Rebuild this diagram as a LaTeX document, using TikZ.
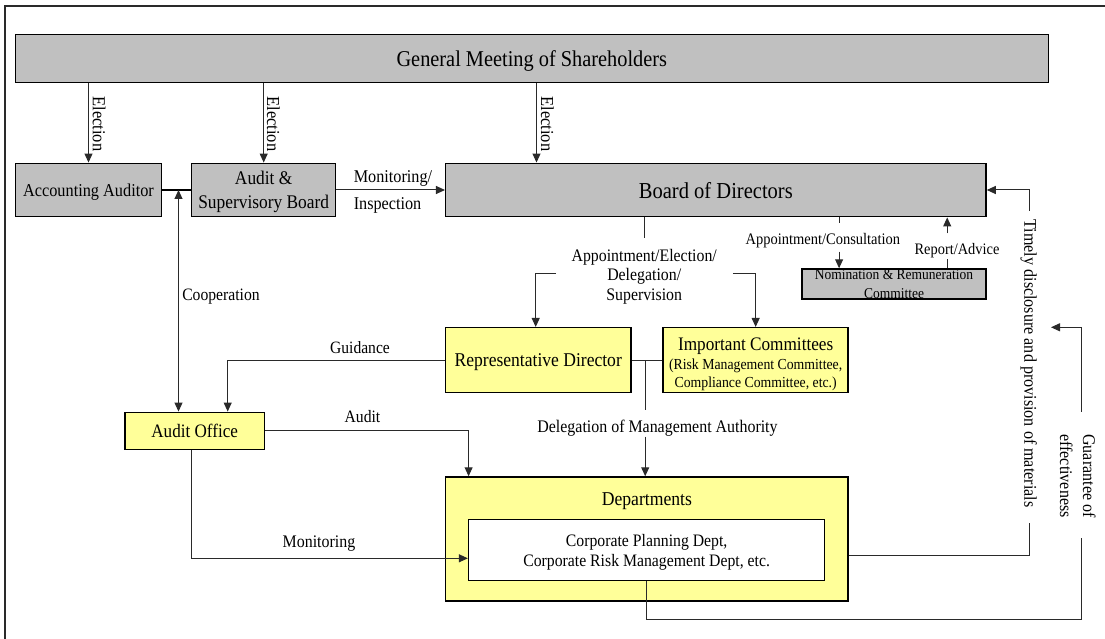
\documentclass[tikz,border=0pt]{standalone}
\usepackage{fontspec}
\setmainfont[FakeStretch=0.9]{Liberation Serif}
\usetikzlibrary{arrows.meta}
\definecolor{boxgray}{HTML}{C0C0C0}
\definecolor{boxyel}{HTML}{FFFF99}
\definecolor{linegray}{HTML}{2A2A2A}
\newcommand{\fsz}[2]{\fontsize{#1}{#2}\selectfont}
\tikzset{
  box/.style={draw=black, line width=1.5pt, inner sep=0pt, text depth=0pt, align=center},
  graybox/.style={box, fill=boxgray},
  yelbox/.style={box, fill=boxyel},
  conn/.style={draw=linegray, line width=1pt},
  arr/.style={conn, -{Triangle[length=9pt,width=8pt]}},
  darr/.style={conn, {Triangle[length=9pt,width=8pt]}-{Triangle[length=9pt,width=8pt]}},
  lbl/.style={inner sep=0pt, text depth=0pt, align=center},
}
\begin{document}
\begin{tikzpicture}[x=1pt,y=-1pt]
\useasboundingbox (0,0) rectangle (1105,639);
% frame
\draw[draw=linegray, line width=1.2pt] (5,650) -- (5,6) -- (1115,6);

% boxes
\node[graybox, minimum width=1033pt, minimum height=48.4pt, font=\fsz{22.6}{26}] (gms) at (531.8,58.5) {General Meeting of Shareholders};
\node[graybox, minimum width=145.6pt, minimum height=53.4pt, font=\fsz{18.1}{22}] (aa) at (88.5,190) {Accounting Auditor};
\node[graybox, minimum width=144pt, minimum height=53.4pt, font=\fsz{19.3}{24.4}] (asb) at (263.7,190) {Audit \&\\Supervisory Board};
\node[graybox, minimum width=540.3pt, minimum height=53.4pt, font=\fsz{22.8}{26}] (bod) at (715.85,190) {Board of Directors};
\node[graybox, minimum width=184pt, minimum height=30pt, font=\fsz{15}{18.3}] (nrc) at (894,284) {Nomination \& Remuneration\\Committee};
\node[yelbox, minimum width=185.1pt, minimum height=65pt, font=\fsz{19.5}{22}] (rd) at (538.25,360.2) {Representative Director};
\node[yelbox, minimum width=184.9pt, minimum height=65pt] (ic) at (755.65,360.2) {};
\node[lbl, font=\fsz{19.1}{22}] (ict) at (755.65,344) {Important Committees};
\node[lbl, font=\fsz{15.3}{18}] (ics1) at (755.65,364.5) {(Risk Management Committee,};
\node[lbl, font=\fsz{15.3}{18}] (ics2) at (755.65,381.7) {Compliance Committee, etc.)};
\node[yelbox, minimum width=139.3pt, minimum height=37pt, font=\fsz{19}{22}] (ao) at (194.65,430.8) {Audit Office};
\node[yelbox, minimum width=402.3pt, minimum height=124pt] (dept) at (646.85,539) {};
\node[lbl, font=\fsz{19.6}{22}] (depttxt) at (646.85,499.2) {Departments};
\node[box, fill=white, minimum width=356.1pt, minimum height=61pt, font=\fsz{17.5}{20}] (inner) at (646.65,550) {Corporate Planning Dept,\\Corporate Risk Management Dept, etc.};

% election arrows
\draw[arr] (aa.north |- gms.south) -- (aa.north);
\draw[arr] (asb.north |- gms.south) -- (asb.north);
\draw[arr] (536.5,0 |- gms.south) -- (536.5,0 |- bod.north);
\node[lbl, rotate=-90, font=\fsz{18.3}{22}] (el1) at (99.2,124) {Election};
\node[lbl, rotate=-90, font=\fsz{18.3}{22}] (el2) at (273.4,124) {Election};
\node[lbl, rotate=-90, font=\fsz{18.3}{22}] (el3) at (547.4,124) {Election};

% AA - ASB and cooperation
\draw[draw=black, line width=2pt] (aa.east) -- (asb.west);
\coordinate (coopTop) at (178.5,190);
\draw[darr] (coopTop |- ao.north) -- (coopTop);
\node[lbl, anchor=west, font=\fsz{17.4}{20}] (coop) at (182.1,295) {Cooperation};

% monitoring / inspection
\draw[arr] (asb.east) -- (bod.west);
\node[lbl, anchor=west, font=\fsz{18}{20}] (mon1) at (353.6,176.5) {Monitoring/};
\node[lbl, anchor=west, font=\fsz{18}{20}] (mon2) at (353.6,203.5) {Inspection};

% timely disclosure
\draw[conn] ([yshift=-16pt]dept.east) -- (1029.3,555) -- (1029.3,523.3);
\draw[arr] (1029.3,210.7) -- (1029.3,190) -- (bod.east);
\node[lbl, rotate=-90, font=\fsz{17.9}{22}] (timely) at (1030.7,363.5) {Timely disclosure and provision of materials};

% guarantee
\draw[conn] (inner.south) -- (inner.south |- 0,619.3) -- (1081.7,619.3) -- (1081.7,538.3);
\coordinate (gEnd) at (1051,327.3);
\draw[arr] (1081.7,411.7) -- (1081.7,327.3) -- (gEnd);
\node[lbl, rotate=-90, font=\fsz{17.8}{23}] (guar) at (1078,476) {Guarantee of\\effectiveness};

% nomination committee
\draw[conn] (839.1,0 |- bod.south) -- (839.1,223);
\draw[arr] (839.1,251.7) -- (839.1,0 |- nrc.north);
\node[lbl, font=\fsz{16.1}{20}] (appcons) at (822.9,238.5) {Appointment/Consultation};
\draw[conn] (947.2,0 |- nrc.north) -- (947.2,259);
\draw[arr] (947.2,233.3) -- (947.2,0 |- bod.south);
\node[lbl, font=\fsz{16}{20}] (repadv) at (957,249) {Report/Advice};

% appointment / election
\draw[conn] (644.5,0 |- bod.south) -- (644.5,238.3);
\node[lbl, font=\fsz{17.6}{19.5}] (appel) at (644.2,274.7) {Appointment/Election/\\Delegation/\\Supervision};
\draw[arr] (556,273.3) -- (535.7,273.3) -- (535.7,0 |- rd.north);
\draw[arr] (732.8,273.3) -| (ic.north);

% RD - IC, delegation
\draw[conn] (rd.east) -- (ic.west);
\draw[conn] (645.2,0 |- rd.east) -- (645.2,410);
\node[lbl, font=\fsz{17.7}{20}] (deleg) at (657.5,426) {Delegation of Management Authority};
\draw[arr] (645.2,436.7) -- (645.2,0 |- dept.north);

% guidance, audit, monitoring
\draw[arr] (rd.west) -| (227.7,0 |- ao.north);
\node[lbl, font=\fsz{17.3}{20}] (guid) at (360,347.7) {Guidance};
\draw[arr] (ao.east) -| (468.6,0 |- dept.north);
\node[lbl, font=\fsz{17.4}{20}] (aud) at (362.5,416.7) {Audit};
\draw[arr] (191.7,0 |- ao.south) |- ([yshift=-8.3pt]inner.west);
\node[lbl, font=\fsz{17.7}{20}] (mon3) at (319,541.7) {Monitoring};
\end{tikzpicture}
\end{document}
